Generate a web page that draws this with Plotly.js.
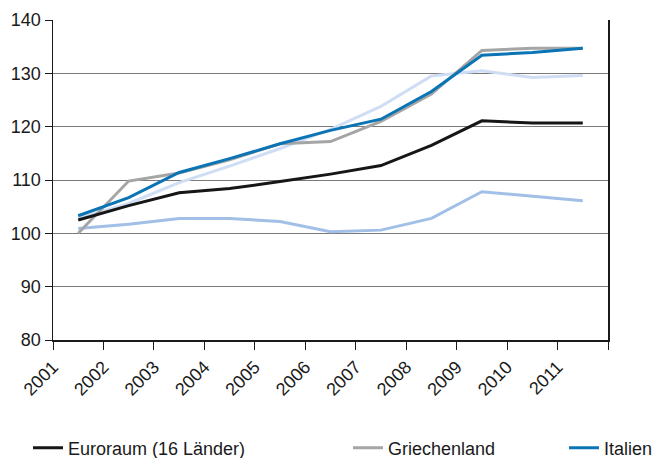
<!DOCTYPE html>
<html>
<head>
<meta charset="utf-8">
<script src="https://cdn.plot.ly/plotly-3.0.1.min.js"></script>
<style>html,body{margin:0;padding:0;background:#fff;}#chart{width:654px;height:458px;}</style>
</head>
<body>
<div id="chart"></div>
<script>
var years = ["2001","2002","2003","2004","2005","2006","2007","2008","2009","2010","2011"];
var xPos = [0.5,1.5,2.5,3.5,4.5,5.5,6.5,7.5,8.5,9.5,10.5];
var euroraum     = [102.5,105.2,107.6,108.4,109.7,111.1,112.7,116.5,121.1,120.7,120.7];
var griechenland = [100.0,109.8,111.3,113.8,116.8,117.2,121.0,126.1,134.3,134.7,134.7];
var italien      = [103.3,106.7,111.4,114.0,116.8,119.3,121.4,126.6,133.4,133.9,134.7];
var serie4       = [102.8,105.6,109.5,112.6,115.9,119.5,123.8,129.5,130.5,129.2,129.6];
var serie5       = [100.9,101.7,102.8,102.8,102.2,100.3,100.6,102.8,107.8,107.0,106.1];
var yTicks = [80,90,100,110,120,130,140];

var font = "Liberation Sans, Arial, Helvetica, sans-serif";
var traces = [
  {x:xPos, y:serie4, name:"", mode:"lines", line:{color:"#cfdef4", width:3}, showlegend:false},
  {x:xPos, y:serie5, name:"", mode:"lines", line:{color:"#a2bfe7", width:3}, showlegend:false},
  {x:xPos, y:griechenland, name:"Griechenland", mode:"lines", line:{color:"#a5a5a5", width:3}, legend:"legend2"},
  {x:xPos, y:euroraum, name:"Euroraum (16 Länder)", mode:"lines", line:{color:"#161616", width:3}, legend:"legend"},
  {x:xPos, y:italien, name:"Italien", mode:"lines", line:{color:"#0a74b5", width:3}, legend:"legend3"}
];
var legBase = {orientation:"h", xref:"container", yref:"container", yanchor:"middle", xanchor:"left",
  font:{family:font, size:18, color:"#1a1a1a"}, bgcolor:"rgba(0,0,0,0)"};
var layout = {
  width:654, height:458,
  margin:{l:53, r:46, t:20, b:118},
  paper_bgcolor:"#fff", plot_bgcolor:"#fff",
  font:{family:font, size:18, color:"#1a1a1a"},
  showlegend:true,
  legend: Object.assign({}, legBase, {x:28/654, y:10/458}),
  legend2: Object.assign({}, legBase, {x:348/654, y:10/458}),
  legend3: Object.assign({}, legBase, {x:564/654, y:10/458}),
  xaxis:{range:[0,11], tickmode:"array", tickvals:[0,1,2,3,4,5,6,7,8,9,10,11],
    ticktext:years.concat([""]), tickangle:-45, ticks:"outside", ticklen:8, tickcolor:"#1a1a1a",
    showline:true, linecolor:"#1a1a1a", linewidth:1.5, showgrid:false, zeroline:false,
    tickfont:{family:font, size:18, color:"#1a1a1a"}, fixedrange:true},
  yaxis:{range:[80,140], tickmode:"array", tickvals:yTicks, ticks:"outside", ticklen:7, tickcolor:"#1a1a1a",
    showline:true, linecolor:"#1a1a1a", linewidth:1.5, mirror:true, showgrid:true, gridcolor:"#7a7a7a", gridwidth:1,
    zeroline:false, tickfont:{family:font, size:18, color:"#1a1a1a"}, fixedrange:true}
};
Plotly.newPlot("chart", traces, layout, {displayModeBar:false, staticPlot:true});
</script>
</body>
</html>
